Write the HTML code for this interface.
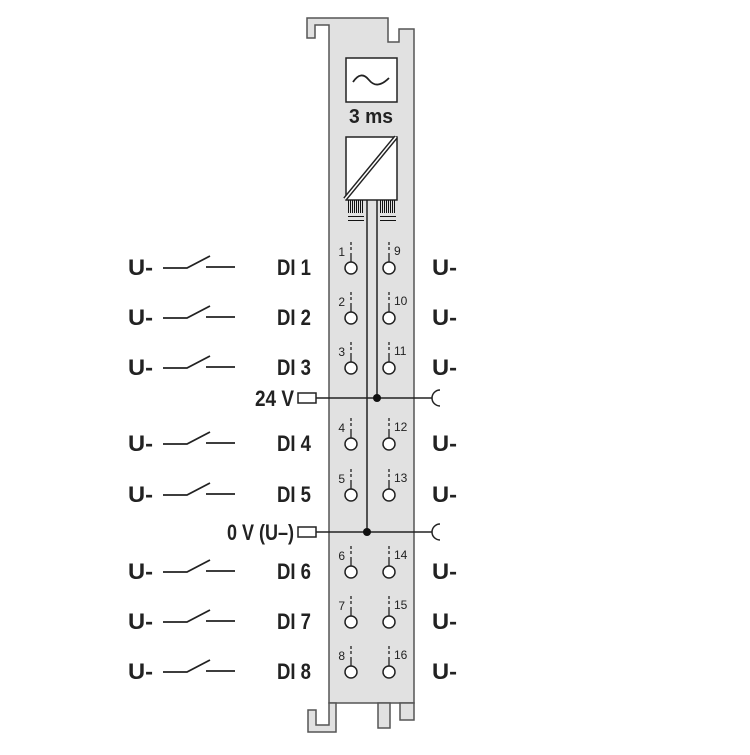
<!DOCTYPE html>
<html><head><style>
html,body{margin:0;padding:0;background:#fff;}
svg text{font-family:"Liberation Sans",sans-serif;}
</style></head><body>
<svg width="750" height="750" viewBox="0 0 750 750" xmlns="http://www.w3.org/2000/svg">
<polygon points="307,18 388,18 388,42 399,42 399,29 414,29 414,703 329,703 329,25 315,25 315,38 307,38" fill="#e1e1e1" stroke="#555" stroke-width="1.5"/>
<rect x="400" y="703" width="14" height="17" fill="#e1e1e1" stroke="#555" stroke-width="1.5"/>
<rect x="378" y="703" width="12" height="25" fill="#e1e1e1" stroke="#555" stroke-width="1.5"/>
<polygon points="329,703 336,703 336,732 308,732 308,710 316,710 316,725 329,725" fill="#e1e1e1" stroke="#555" stroke-width="1.5"/>
<rect x="346" y="58" width="51" height="44" fill="#fff" stroke="#222" stroke-width="1.5"/>
<path d="M353,82 Q361,70 369,80 Q377,90 389,78" fill="none" stroke="#222" stroke-width="1.8"/>
<text x="349" y="123" font-size="20" font-weight="bold" fill="#222" textLength="44" lengthAdjust="spacingAndGlyphs">3 ms</text>
<rect x="346" y="137" width="51" height="63" fill="#fff" stroke="#222" stroke-width="1.5"/>
<line x1="345" y1="199" x2="396" y2="137" stroke="#222" stroke-width="4.5"/>
<line x1="345" y1="199" x2="396" y2="137" stroke="#fff" stroke-width="1.5"/>
<g stroke="#111" stroke-width="1">
<path d="M348.5,200v13M350.5,200v13M352.5,200v13M354.5,200v13M356.5,200v13M358.5,200v13M360.5,200v13M362.5,200v13"/>
<path d="M380.5,200v13M382.5,200v13M384.5,200v13M386.5,200v13M388.5,200v13M390.5,200v13M392.5,200v13M394.5,200v13"/>
<path d="M348,216.5h16M348,220.5h16M380,216.5h16M380,220.5h16"/>
</g>
<line x1="367" y1="200" x2="367" y2="532" stroke="#222" stroke-width="1.5"/>
<line x1="377" y1="200" x2="377" y2="398" stroke="#222" stroke-width="1.5"/>
<g stroke="#222" stroke-width="1.5" fill="none">
<rect x="298" y="393" width="18" height="10" fill="#fff"/>
<line x1="316" y1="398" x2="432" y2="398"/>
<path d="M440,390 A8,8 0 0 0 440,406"/>
<rect x="298" y="527" width="18" height="10" fill="#fff"/>
<line x1="316" y1="532" x2="432" y2="532"/>
<path d="M440,524 A8,8 0 0 0 440,540"/>
</g>
<circle cx="377" cy="398" r="4" fill="#111"/>
<circle cx="367" cy="532" r="4" fill="#111"/>
<g fill="#222" font-weight="bold" font-size="22">
<text x="255" y="406" textLength="39" lengthAdjust="spacingAndGlyphs">24 V</text>
<text x="227" y="540" textLength="67" lengthAdjust="spacingAndGlyphs">0 V (U–)</text>
</g>

<g stroke="#222" stroke-width="1.3" fill="none">
<path stroke-dasharray="3,2" d="M351,242v9M389,242v9M351,292v9M389,292v9M351,342v9M389,342v9M351,418v9M389,418v9M351,469v9M389,469v9M351,546v9M389,546v9M351,596v9M389,596v9M351,646v9M389,646v9"/>
<path d="M351,253v9M389,253v9M351,303v9M389,303v9M351,353v9M389,353v9M351,429v9M389,429v9M351,480v9M389,480v9M351,557v9M389,557v9M351,607v9M389,607v9M351,657v9M389,657v9"/>
</g>
<g fill="#fff" stroke="#222" stroke-width="1.5">
<circle cx="351" cy="268" r="6"/><circle cx="389" cy="268" r="6"/>
<circle cx="351" cy="318" r="6"/><circle cx="389" cy="318" r="6"/>
<circle cx="351" cy="368" r="6"/><circle cx="389" cy="368" r="6"/>
<circle cx="351" cy="444" r="6"/><circle cx="389" cy="444" r="6"/>
<circle cx="351" cy="495" r="6"/><circle cx="389" cy="495" r="6"/>
<circle cx="351" cy="572" r="6"/><circle cx="389" cy="572" r="6"/>
<circle cx="351" cy="622" r="6"/><circle cx="389" cy="622" r="6"/>
<circle cx="351" cy="672" r="6"/><circle cx="389" cy="672" r="6"/>
</g>
<g fill="#222" font-size="12">
<text x="345" y="256" text-anchor="end">1</text><text x="394" y="255">9</text>
<text x="345" y="306" text-anchor="end">2</text><text x="394" y="305">10</text>
<text x="345" y="356" text-anchor="end">3</text><text x="394" y="355">11</text>
<text x="345" y="432" text-anchor="end">4</text><text x="394" y="431">12</text>
<text x="345" y="483" text-anchor="end">5</text><text x="394" y="482">13</text>
<text x="345" y="560" text-anchor="end">6</text><text x="394" y="559">14</text>
<text x="345" y="610" text-anchor="end">7</text><text x="394" y="609">15</text>
<text x="345" y="660" text-anchor="end">8</text><text x="394" y="659">16</text>
</g>
<g fill="#222" font-size="22" font-weight="bold">
<text x="128" y="275" textLength="25" lengthAdjust="spacingAndGlyphs">U-</text><text x="432" y="275" textLength="25" lengthAdjust="spacingAndGlyphs">U-</text><text x="277" y="275" textLength="34" lengthAdjust="spacingAndGlyphs">DI 1</text>
<text x="128" y="325" textLength="25" lengthAdjust="spacingAndGlyphs">U-</text><text x="432" y="325" textLength="25" lengthAdjust="spacingAndGlyphs">U-</text><text x="277" y="325" textLength="34" lengthAdjust="spacingAndGlyphs">DI 2</text>
<text x="128" y="375" textLength="25" lengthAdjust="spacingAndGlyphs">U-</text><text x="432" y="375" textLength="25" lengthAdjust="spacingAndGlyphs">U-</text><text x="277" y="375" textLength="34" lengthAdjust="spacingAndGlyphs">DI 3</text>
<text x="128" y="451" textLength="25" lengthAdjust="spacingAndGlyphs">U-</text><text x="432" y="451" textLength="25" lengthAdjust="spacingAndGlyphs">U-</text><text x="277" y="451" textLength="34" lengthAdjust="spacingAndGlyphs">DI 4</text>
<text x="128" y="502" textLength="25" lengthAdjust="spacingAndGlyphs">U-</text><text x="432" y="502" textLength="25" lengthAdjust="spacingAndGlyphs">U-</text><text x="277" y="502" textLength="34" lengthAdjust="spacingAndGlyphs">DI 5</text>
<text x="128" y="579" textLength="25" lengthAdjust="spacingAndGlyphs">U-</text><text x="432" y="579" textLength="25" lengthAdjust="spacingAndGlyphs">U-</text><text x="277" y="579" textLength="34" lengthAdjust="spacingAndGlyphs">DI 6</text>
<text x="128" y="629" textLength="25" lengthAdjust="spacingAndGlyphs">U-</text><text x="432" y="629" textLength="25" lengthAdjust="spacingAndGlyphs">U-</text><text x="277" y="629" textLength="34" lengthAdjust="spacingAndGlyphs">DI 7</text>
<text x="128" y="679" textLength="25" lengthAdjust="spacingAndGlyphs">U-</text><text x="432" y="679" textLength="25" lengthAdjust="spacingAndGlyphs">U-</text><text x="277" y="679" textLength="34" lengthAdjust="spacingAndGlyphs">DI 8</text>
</g>
<g fill="none" stroke="#222" stroke-width="1.8">
<path d="M163,268H187L210,256M206,267H235"/>
<path d="M163,318H187L210,306M206,317H235"/>
<path d="M163,368H187L210,356M206,367H235"/>
<path d="M163,444H187L210,432M206,443H235"/>
<path d="M163,495H187L210,483M206,494H235"/>
<path d="M163,572H187L210,560M206,571H235"/>
<path d="M163,622H187L210,610M206,621H235"/>
<path d="M163,672H187L210,660M206,671H235"/>
</g>
</svg>
</body></html>
